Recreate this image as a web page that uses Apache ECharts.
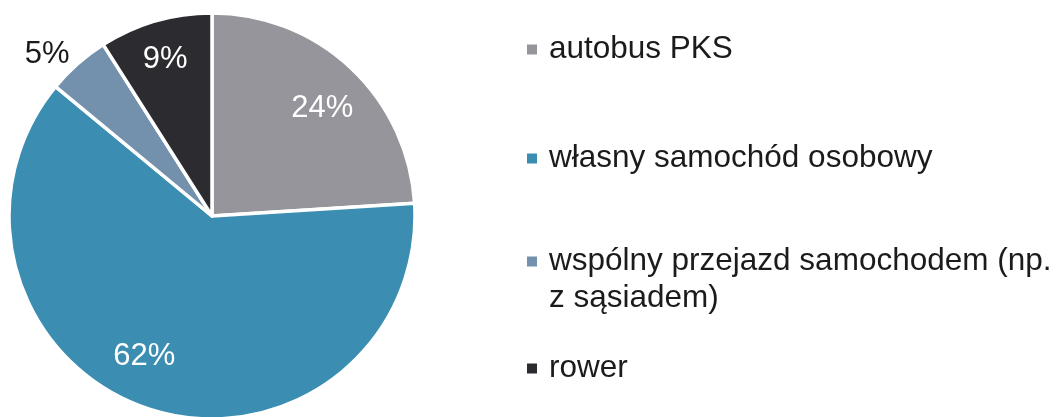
<!DOCTYPE html>
<html>
<head>
<meta charset="utf-8">
<script src="https://cdn.jsdelivr.net/npm/echarts@6/dist/echarts.min.js"></script>
<style>
  html, body { margin: 0; padding: 0; background: #ffffff; }
  #chart { width: 1056px; height: 417px; }
</style>
</head>
<body>
<div id="chart"></div>
<script>
// Sposób dojazdu (udział w %)
const categories = [
  'autobus PKS',
  'własny samochód osobowy',
  'wspólny przejazd samochodem (np.\nz sąsiadem)',
  'rower'
];
const shares = [24, 62, 5, 9];
const sliceColors = ['#96959b', '#3b8eb1', '#7391ac', '#2c2b30'];

// Layout: legend rows and small label nudges per slice
const legendTops = [31, 140, 243, 350];
const labelNudge = [[0, 10], [-18, -13], [1, 3], [-2, -2]];

const FONT = '"Liberation Sans", Arial, sans-serif';
const FONT_SIZE = 31.5;
const LINE_H = 37;
const CX = 212, CY = 216, R = 203;

const pieData = categories.map((name, i) => ({
  name,
  value: shares[i],
  itemStyle: { color: sliceColors[i] }
}));

// Labels ride on a transparent ring so they sit near the outer edge of each slice
const labelData = categories.map((name, i) => {
  const small = shares[i] < 7;
  return {
    name: name + ' ',
    value: shares[i],
    label: small
      ? { position: 'outside', color: '#1a1a1a', distanceToLabelLine: -2, offset: labelNudge[i] }
      : { position: 'inside', color: '#ffffff', offset: labelNudge[i] }
  };
});

// Square marker; for a two-line entry the path is stretched downward with an
// invisible segment so the square stays beside the first line.
function legendIcon(lines) {
  if (lines < 2) return { icon: 'rect', w: 10, h: 10 };
  const h = 10 + LINE_H * (lines - 1);
  return { icon: 'path://M0,0H10V10H0Z M0,' + h + 'H10', w: 10, h: h };
}

const legends = categories.map((name, i) => {
  const ic = legendIcon(name.split('\n').length);
  return {
    orient: 'vertical',
    left: 527,
    top: legendTops[i],
    padding: 0,
    data: [name],
    icon: ic.icon,
    itemWidth: ic.w,
    itemHeight: ic.h,
    symbolKeepAspect: true,
    selectedMode: false,
    itemStyle: { borderWidth: 0 },
    textStyle: {
      fontFamily: FONT,
      fontSize: FONT_SIZE,
      color: '#1b1b1b',
      lineHeight: LINE_H,
      padding: [0, 0, 0, 7]
    }
  };
});

const chart = echarts.init(document.getElementById('chart'), null, { renderer: 'canvas' });
chart.setOption({
  animation: false,
  backgroundColor: '#ffffff',
  legend: legends,
  series: [
    {
      type: 'pie',
      center: [CX, CY],
      radius: [0, R],
      startAngle: 90,
      clockwise: true,
      silent: true,
      data: pieData,
      itemStyle: { borderColor: '#ffffff', borderWidth: 3.5 },
      label: { show: false },
      labelLine: { show: false }
    },
    {
      type: 'pie',
      center: [CX, CY],
      radius: [113, R],
      startAngle: 90,
      clockwise: true,
      silent: true,
      avoidLabelOverlap: false,
      data: labelData,
      itemStyle: { color: 'rgba(0,0,0,0)', borderWidth: 0 },
      label: {
        show: true,
        formatter: '{c}%',
        fontFamily: FONT,
        fontSize: 31
      },
      labelLine: { show: false, length: 17, length2: 0 }
    }
  ]
});
</script>
</body>
</html>
